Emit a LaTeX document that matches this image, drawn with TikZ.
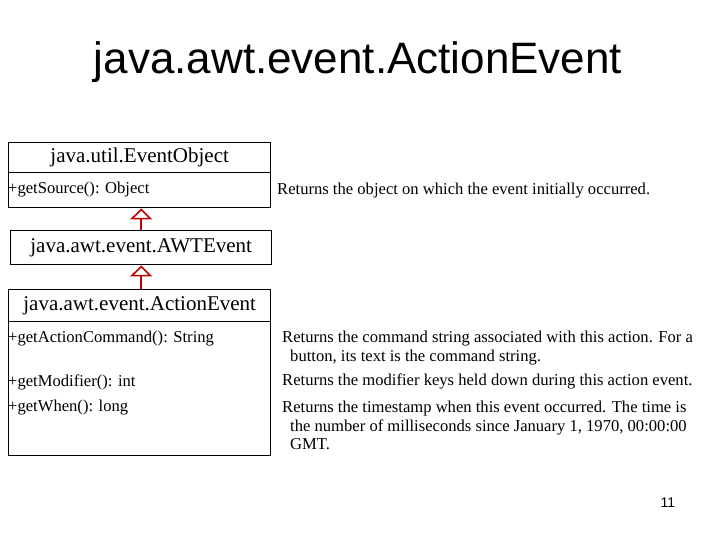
\documentclass[tikz,border=0pt]{standalone}
\usepackage{fontspec}
\setmainfont{Liberation Serif}
\newfontfamily\arialf{Liberation Sans}
\usetikzlibrary{arrows.meta}
\definecolor{inhred}{RGB}{192,0,0}
\begin{document}
\begin{tikzpicture}[x=1pt,y=-1pt,
  cls/.style={draw, line width=1.4pt, inner sep=0pt, anchor=north west},
  clsname/.style={cls, font=\fontsize{21}{21}\selectfont},
  mem/.style={inner sep=0pt, anchor=west, font=\fontsize{16.6}{18.5}\selectfont},
  desc/.style={inner sep=0pt, anchor=north west, align=left, font=\fontsize{16.6}{18.5}\selectfont},
  inh/.style={draw=inhred, line width=1.6pt, -{Triangle[open, length=11pt, width=22pt, line width=1.6pt]}}
]
\useasboundingbox (0,0) rectangle (720,540);
\node[font=\arialf\fontsize{44}{44}\selectfont] (title) at (358,62) {java.awt.event.ActionEvent};

% EventObject
\node[clsname, minimum width=262pt, minimum height=30pt] (eoname) at (8,142) {java.util.EventObject};
\node[cls, minimum width=262pt, minimum height=35pt] (eomem) at (8,172) {};
\node[mem] (getsrc) at (8,190) {+getSource(): Object};
\node[desc] (dsrc) at (277,183) {Returns the object on which the event initially occurred.};

% AWTEvent
\node[clsname, minimum width=261pt, minimum height=34pt] (awt) at (10,230) {java.awt.event.AWTEvent};

% ActionEvent
\node[clsname, minimum width=262pt, minimum height=32pt] (aename) at (8,289) {java.awt.event.ActionEvent};
\node[cls, minimum width=262pt, minimum height=134pt] (aemem) at (8,321) {};
\node[mem] (getcmd) at (8,339) {+getActionCommand(): String};
\node[mem] (getmod) at (8,382) {+getModifier(): int};
\node[mem] (getwhen) at (8,408) {+getWhen(): long};
\node[desc] (dcmd) at (282,331) {Returns the command string associated with this action. For a\\\hspace*{8pt}button, its text is the command string.};
\node[desc] (dmod) at (282,374) {Returns the modifier keys held down during this action event.};
\node[desc] (dwhen) at (282,401) {Returns the timestamp when this event occurred. The time is\\\hspace*{8pt}the number of milliseconds since January 1, 1970, 00:00:00\\\hspace*{8pt}GMT.};

% inheritance arrows
\draw[inh] (awt.north) -- (awt.north |- eomem.south);
\draw[inh] (aename.north -| awt.south) -- (awt.south);

\node[font=\arialf\fontsize{14}{14}\selectfont] (pg) at (668,503) {11};
\end{tikzpicture}
\end{document}
